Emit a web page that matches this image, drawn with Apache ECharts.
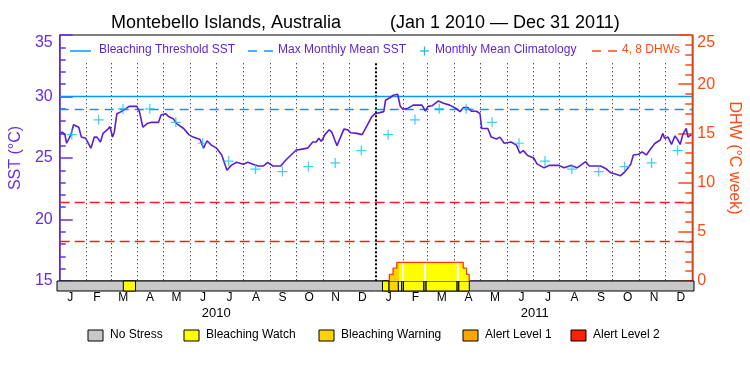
<!DOCTYPE html>
<html>
<head>
<meta charset="utf-8">
<script src="https://cdn.jsdelivr.net/npm/echarts@6/dist/echarts.min.js"></script>
<style>
html, body { margin: 0; padding: 0; background: #fff; }
#chart { width: 750px; height: 375px; }
</style>
</head>
<body>
<div id="chart"></div>
<script>
// Montebello Islands SST / DHW chart, Jan 2010 - Dec 2011
var DAY = 86400000;
var T0 = Date.UTC(2010, 0, 1);
var T1 = Date.UTC(2012, 0, 1);

// SST: days since Jan 1 2010 and value
var sstDays = [0, 3, 6, 8, 13, 16, 22, 25, 30, 36, 40, 43, 47, 50, 55, 58, 61, 63, 66, 71,
  76, 80, 89, 92, 96, 101, 106, 114, 117, 122, 126, 131, 135, 143, 149, 154, 162, 166, 170, 175,
  181, 187, 193, 198, 204, 212, 217, 223, 229, 235, 240, 246, 255, 261, 273, 278, 286, 292, 296, 299,
  302, 306, 311, 314, 320, 322, 328, 332, 336, 343, 349, 353, 360, 364, 374, 376, 381, 385, 390, 393,
  396, 402, 408, 418, 422, 425, 430, 437, 443, 450, 458, 462, 466, 471, 475, 481, 485, 487, 494, 498,
  504, 508, 513, 521, 527, 531, 535, 540, 547, 551, 559, 565, 576, 582, 590, 597, 603, 607, 611, 624,
  630, 636, 643, 647, 653, 659, 662, 668, 672, 677, 681, 687, 693, 696, 698, 702, 706, 710, 713, 716,
  719, 723, 725, 729];
var sstValues = [27.0, 27.1, 26.9, 26.2, 26.9, 27.7, 27.5, 26.7, 26.6, 25.8, 26.7, 26.7, 26.3, 27.0, 27.3, 27.55, 26.7, 27.1, 28.6, 28.77,
  29.0, 29.2, 29.2, 28.77, 27.5, 27.8, 27.9, 27.9, 28.5, 28.6, 28.35, 28.2, 27.8, 27.4, 26.9, 26.7, 26.5, 25.8, 26.4, 26.05,
  25.8, 25.25, 24.0, 24.4, 24.65, 24.5, 24.65, 24.5, 24.35, 24.35, 24.65, 24.35, 24.35, 24.84, 25.65, 25.7, 25.8, 26.3, 26.3, 26.6,
  26.35, 26.9, 27.3, 27.1, 26.0, 26.35, 27.35, 27.3, 27.05, 27.0, 26.9, 27.4, 28.35, 28.6, 28.77, 29.7, 29.9, 30.1, 30.18, 29.2,
  28.96, 29.05, 29.3, 29.3, 28.82, 29.2, 29.25, 29.64, 29.45, 29.3, 29.0, 28.77, 29.1, 29.1, 28.8, 28.8, 28.6, 27.4, 27.4, 26.7,
  26.55, 26.7, 26.2, 26.3, 26.05, 25.4, 25.6, 25.2, 25.0, 24.5, 24.2, 24.4, 24.4, 24.2, 24.4, 24.2, 24.5, 24.7, 24.35, 24.35,
  24.15, 23.8, 23.65, 23.55, 23.94, 24.5, 25.25, 25.3, 25.5, 25.25, 25.65, 26.2, 26.46, 27.0, 26.6, 26.7, 26.1, 26.8, 26.5, 26.1,
  26.9, 27.4, 26.7, 26.9];

// monthly mean climatology, Jan..Dec (same both years)
var climatology = [26.9, 28.1, 29.0, 29.0, 27.9, 26.2, 24.75, 24.1, 23.9, 24.3, 24.6, 25.6];
var years = [2010, 2011];
var monthLabels = ['J', 'F', 'M', 'A', 'M', 'J', 'J', 'A', 'S', 'O', 'N', 'D'];

var bleachingThreshold = 30.0;
var maxMonthlyMean = 29.0;
var dhwLevels = [4, 8];

// degree heating weeks, each value holds from its day to the next one
var dhwDays = [0, 380.5, 384.7, 389, 465.6, 469.5, 472.5, 730];
var dhwValues = [0, 0.68, 1.3, 1.9, 1.3, 0.68, 0, 0];

// stress level periods (days since Jan 1 2010)
var stressStart = [76, 373, 380.5, 391.2, 395, 397, 420.5, 423, 458.5, 460.5];
var stressEnd = [90, 380.5, 391.2, 395, 397, 420.5, 423, 458.5, 460.5, 472.5];
var stressLevel = [1, 1, 2, 1, 0, 1, 0, 1, 0, 1];

var stressNames = ['No Stress', 'Bleaching Watch', 'Bleaching Warning', 'Alert Level 1', 'Alert Level 2'];
var stressColors = ['#c8c8c8', '#ffff00', '#ffd200', '#ffa500', '#ff2000'];

var PURPLE = '#5c1fd0';
var LABEL_PURPLE = '#6a2ee0';
var ORANGE = '#ff4a12';
var BLUE = '#0a96ff';
var CYAN = '#10c0f0';
var FONT = 'Liberation Sans, Arial, sans-serif';
var dotTop = 32.7; // month lines start just under the legend

function toTime(d) { return T0 + d * DAY; }

var sstData = sstDays.map(function (d, i) { return [toTime(d), sstValues[i]]; });

var climData = [];
years.forEach(function (y) {
	climatology.forEach(function (v, m) { climData.push([Date.UTC(y, m, 15), v]); });
});

var dhwData = dhwDays.map(function (d, i) { return [toTime(d), dhwValues[i]]; });
var firstHot = dhwValues.findIndex(function (v) { return v > 0; });
var lastHot = dhwValues.length - 1;
while (lastHot > 0 && dhwValues[lastHot - 1] === 0) lastHot--;
var dhwOutline = [[toTime(dhwDays[firstHot]), 0]].concat(dhwData.slice(firstHot, lastHot + 1));

var monthCats = [];
years.forEach(function () { monthCats = monthCats.concat(monthLabels); });

var monthLines = [];
years.forEach(function (y) {
	for (var m = 0; m < 12; m++) {
		if (y === years[0] && m === 0) continue;
		var t = Date.UTC(y, m, 1);
		var style = m === 0 ? { color: '#000', width: 2, type: [2, 2] } : { color: '#000', width: 1, type: [1, 3] };
		monthLines.push([{ coord: [t, dotTop], lineStyle: style }, { coord: [t, 15] }]);
	}
});

var stressData = [[T0, T1, 0]];
stressStart.forEach(function (s, i) { stressData.push([toTime(s), toTime(stressEnd[i]), stressLevel[i]]); });

var areaColors = ['#ffffff'].concat(stressColors.slice(1));
var pieces = stressStart.map(function (s, i) {
	return { gte: toTime(s), lt: toTime(stressEnd[i]), color: areaColors[stressLevel[i]] };
});

// legends drawn as graphics
var graphics = [
	{ type: 'text', left: 111, top: 14, style: { text: 'Montebello Islands, Australia', font: '18px ' + FONT, fill: '#000' } },
	{ type: 'text', left: 390, top: 14, style: { text: '(Jan 1 2010 \u2014 Dec 31 2011)', font: '18px ' + FONT, fill: '#000' } },
	{ type: 'line', shape: { x1: 70, y1: 51, x2: 91, y2: 51 }, style: { stroke: BLUE, lineWidth: 1.5 } },
	{ type: 'text', left: 99, top: 44, style: { text: 'Bleaching Threshold SST', font: '12px ' + FONT, fill: PURPLE } },
	{ type: 'line', shape: { x1: 248, y1: 51, x2: 257, y2: 51 }, style: { stroke: BLUE, lineWidth: 1.5 } },
	{ type: 'line', shape: { x1: 264, y1: 51, x2: 273, y2: 51 }, style: { stroke: BLUE, lineWidth: 1.5 } },
	{ type: 'text', left: 278, top: 44, style: { text: 'Max Monthly Mean SST', font: '12px ' + FONT, fill: PURPLE } },
	{ type: 'line', shape: { x1: 420, y1: 51, x2: 429, y2: 51 }, style: { stroke: CYAN, lineWidth: 1.3 } },
	{ type: 'line', shape: { x1: 424.5, y1: 46.5, x2: 424.5, y2: 55.5 }, style: { stroke: CYAN, lineWidth: 1.3 } },
	{ type: 'text', left: 435, top: 44, style: { text: 'Monthly Mean Climatology', font: '12px ' + FONT, fill: PURPLE } },
	{ type: 'line', shape: { x1: 592, y1: 51, x2: 601, y2: 51 }, style: { stroke: ORANGE, lineWidth: 1.5 } },
	{ type: 'line', shape: { x1: 608, y1: 51, x2: 617, y2: 51 }, style: { stroke: ORANGE, lineWidth: 1.5 } },
	{ type: 'text', left: 622, top: 44, style: { text: '4, 8 DHWs', font: '12px ' + FONT, fill: ORANGE } }
];
var boxLeft = [88, 184, 319, 463, 571];
stressNames.forEach(function (n, i) {
	graphics.push({ type: 'rect', shape: { x: boxLeft[i], y: 330, width: 15, height: 11 }, style: { fill: stressColors[i], stroke: '#000', lineWidth: 1 } });
	graphics.push({ type: 'text', left: boxLeft[i] + 22, top: 329, style: { text: n, font: '12px ' + FONT, fill: '#000' } });
});

var myChart = echarts.init(document.getElementById('chart'));
option = {
	animation : false,
	backgroundColor : '#fff',
	textStyle : { fontFamily : FONT },
	grid : [ {
		left : 57, right : 56, top : 35, height : 246,
		show : true, borderColor : '#000', borderWidth : 1
	}, {
		left : 57, right : 56, top : 281, height : 10
	} ],
	xAxis : [ {
		type : 'time', gridIndex : 0, min : T0, max : T1, show : false
	}, {
		type : 'time', gridIndex : 1, min : T0, max : T1, show : false
	}, {
		type : 'category', gridIndex : 1, data : monthCats, position : 'bottom',
		axisLine : { show : false }, axisTick : { show : false },
		axisLabel : { interval : 0, margin : 1, color : '#000', fontSize : 12 }
	}, {
		type : 'category', gridIndex : 1, data : years.map(String), position : 'bottom', offset : 16,
		axisLine : { show : false }, axisTick : { show : false },
		axisLabel : { interval : 0, margin : 0, color : '#000', fontSize : 13 }
	} ],
	yAxis : [ {
		type : 'value', gridIndex : 0, min : 15, max : 35, interval : 5, position : 'left',
		axisLine : { show : true, lineStyle : { color : LABEL_PURPLE, width : 1.5 } },
		axisTick : { show : true, inside : true, length : 13, lineStyle : { color : LABEL_PURPLE, width : 1.5 } },
		minorTick : { show : true, splitNumber : 5, length : 6, lineStyle : { color : LABEL_PURPLE, width : 1.5 } },
		axisLabel : { color : LABEL_PURPLE, fontSize : 16, margin : 7, verticalAlignMaxLabel : 'top' },
		splitLine : { show : false },
		name : 'SST (\u00b0C)', nameLocation : 'middle', nameGap : 31, nameRotate : 90,
		nameTextStyle : { color : LABEL_PURPLE, fontSize : 16 }
	}, {
		type : 'value', gridIndex : 0, min : 0, max : 25, interval : 5, position : 'right',
		axisLine : { show : true, lineStyle : { color : ORANGE, width : 1.5 } },
		axisTick : { show : true, inside : true, length : 14, lineStyle : { color : ORANGE, width : 1.5 } },
		minorTick : { show : true, splitNumber : 5, length : 7, lineStyle : { color : ORANGE, width : 1.5 } },
		axisLabel : { color : ORANGE, fontSize : 16, margin : 5, verticalAlignMaxLabel : 'top' },
		splitLine : { show : false },
		name : 'DHW (\u00b0C week)', nameLocation : 'middle', nameGap : 33, nameRotate : -90,
		nameTextStyle : { color : ORANGE, fontSize : 16 }
	}, {
		type : 'value', gridIndex : 1, min : 0, max : 1, show : false
	} ],
	visualMap : {
		type : 'piecewise', show : false, seriesIndex : 2, dimension : 0,
		pieces : pieces, outOfRange : { color : '#ffffff' }
	},
	graphic : graphics,
	series : [ {
		name : 'SST',
		type : 'line',
		xAxisIndex : 0, yAxisIndex : 0,
		data : sstData,
		showSymbol : false,
		z : 6,
		lineStyle : { color : PURPLE, width : 1.6 },
		markLine : {
			silent : true, symbol : [ 'none', 'none' ], label : { show : false }, z : 3,
			data : [
				{ yAxis : bleachingThreshold, lineStyle : { color : BLUE, width : 1.3, type : 'solid' } },
				{ yAxis : maxMonthlyMean, lineStyle : { color : BLUE, width : 1.3, type : [ 9, 6 ] } }
			]
		}
	}, {
		name : 'Monthly Mean Climatology',
		type : 'scatter',
		xAxisIndex : 0, yAxisIndex : 0,
		data : climData,
		symbol : 'path://M4.4,0H5.6V10H4.4Z M0,4.4H10V5.6H0Z',
		symbolSize : 10,
		z : 7,
		itemStyle : { color : CYAN },
		markLine : {
			silent : true, symbol : [ 'none', 'none' ], label : { show : false }, z : 1,
			data : monthLines
		}
	}, {
		name : 'DHW area',
		type : 'line',
		xAxisIndex : 0, yAxisIndex : 1,
		data : dhwData,
		step : 'end',
		showSymbol : false,
		z : 3,
		lineStyle : { width : 0 },
		areaStyle : { opacity : 1 },
		markLine : {
			silent : true, symbol : [ 'none', 'none' ], label : { show : false }, z : 3,
			data : dhwLevels.map(function (v) {
				return { yAxis : v, lineStyle : { color : '#ff1a1a', width : 1.3, type : [ 10, 5 ] } };
			})
		}
	}, {
		name : 'DHW',
		type : 'line',
		xAxisIndex : 0, yAxisIndex : 1,
		data : dhwOutline,
		step : 'end',
		showSymbol : false,
		z : 4,
		lineStyle : { color : '#ff3a10', width : 1.3 }
	}, {
		name : 'Stress',
		type : 'custom',
		xAxisIndex : 1, yAxisIndex : 2,
		data : stressData,
		encode : { x : [ 0, 1 ] },
		renderItem : function(params, api) {
			var a = api.coord([ api.value(0), 1 ]);
			var b = api.coord([ api.value(1), 0 ]);
			return {
				type : 'rect',
				shape : { x : a[0], y : a[1], width : b[0] - a[0], height : b[1] - a[1] },
				style : { fill : stressColors[api.value(2)], stroke : '#000', lineWidth : 1 }
			};
		}
	} ]
};
myChart.setOption(option);
</script>
</body>
</html>
